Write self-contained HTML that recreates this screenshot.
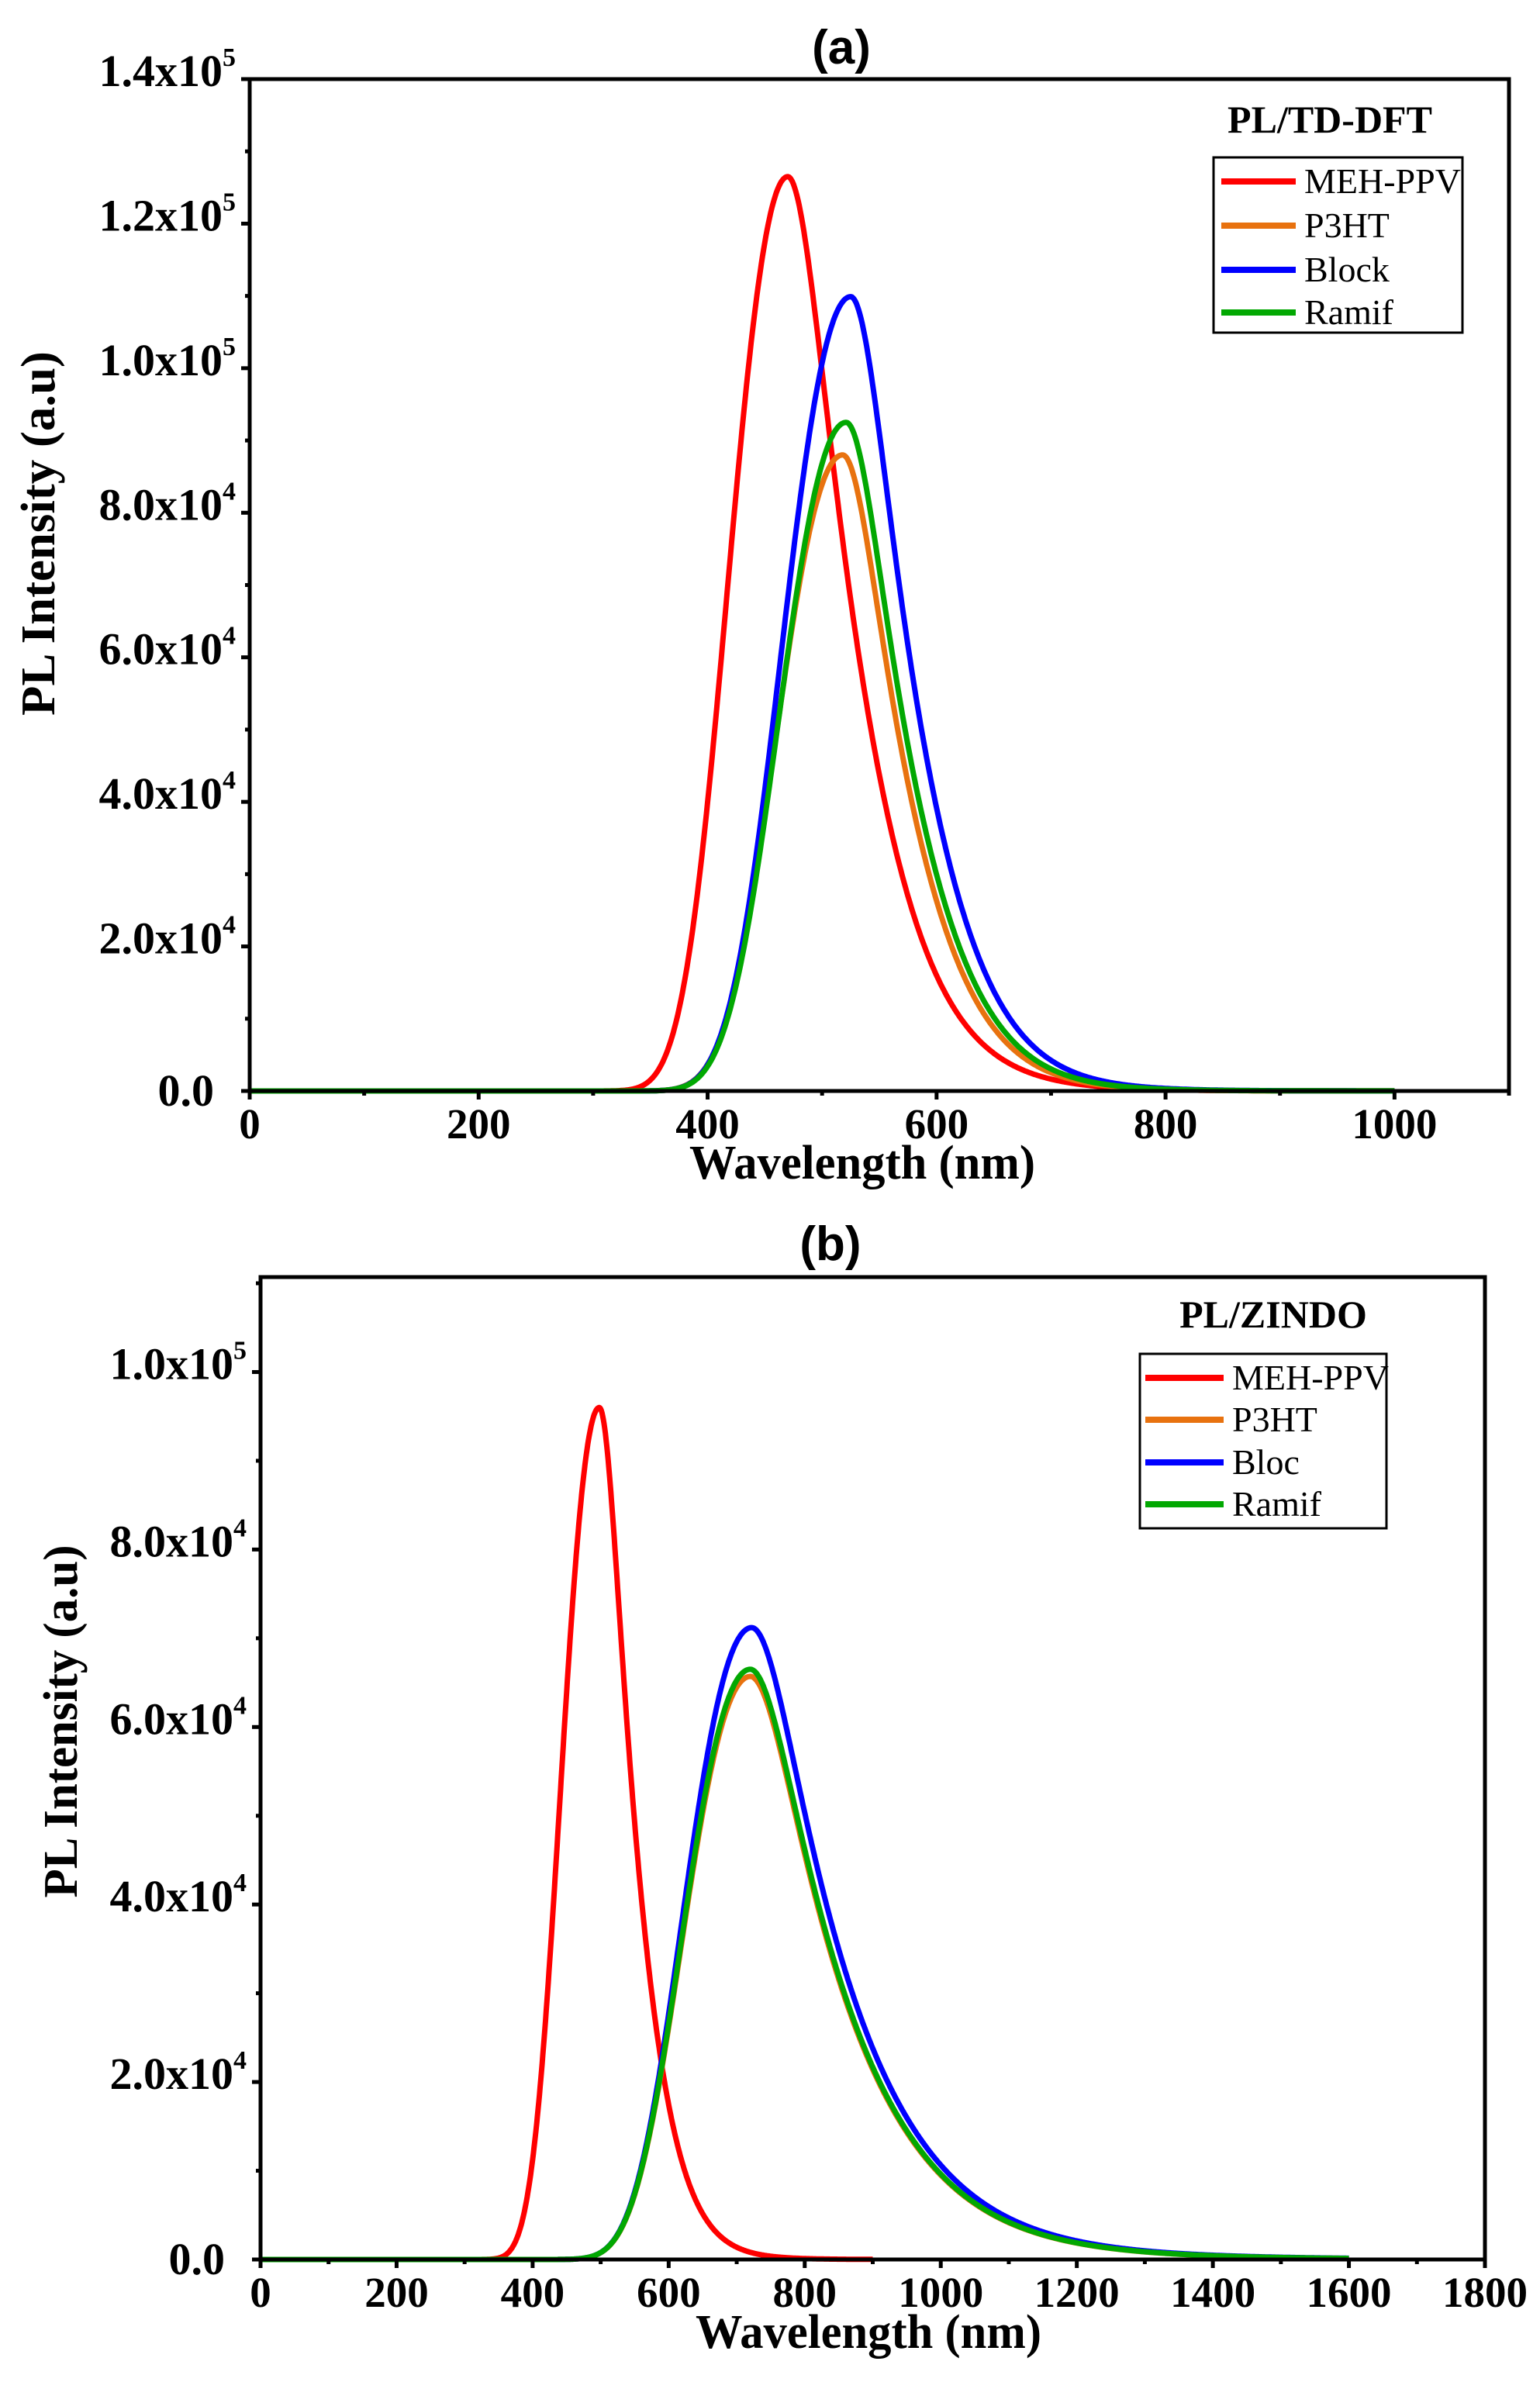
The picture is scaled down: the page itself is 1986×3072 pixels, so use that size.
<!DOCTYPE html>
<html>
<head>
<meta charset="utf-8">
<style>
html,body{margin:0;padding:0;background:#fff;}
svg{display:block;}
.t{font-family:"Liberation Serif",serif;font-weight:bold;fill:#000;}
.s{font-family:"Liberation Sans",sans-serif;font-weight:bold;fill:#000;}
.l{font-family:"Liberation Serif",serif;fill:#000;}
</style>
</head>
<body>
<svg id="sv" width="1986" height="3072" viewBox="0 0 1986 3072" xmlns="http://www.w3.org/2000/svg">
<rect width="1986" height="3072" fill="#fff"/>
<text class="s" x="1085" y="82" font-size="62" text-anchor="middle">(a)</text>
<text class="s" x="1071" y="1625" font-size="62" text-anchor="middle">(b)</text>
<text class="t" x="1112" y="1520" font-size="62" text-anchor="middle" textLength="446" lengthAdjust="spacingAndGlyphs">Wavelength (nm)</text>
<text class="t" x="1120" y="3028" font-size="62" text-anchor="middle" textLength="446" lengthAdjust="spacingAndGlyphs">Wavelength (nm)</text>
<text class="t" transform="translate(70,688) rotate(-90)" font-size="62" text-anchor="middle" textLength="470" lengthAdjust="spacingAndGlyphs">PL Intensity (a.u)</text>
<text class="t" transform="translate(99,2220) rotate(-90)" font-size="62" text-anchor="middle" textLength="455" lengthAdjust="spacingAndGlyphs">PL Intensity (a.u)</text>
<g id="g"></g>
</svg>
<script>
(function(){
var NS="http://www.w3.org/2000/svg";
var g=document.getElementById("g");
function el(tag,attrs,txt){var e=document.createElementNS(NS,tag);for(var k in attrs)e.setAttribute(k,attrs[k]);if(txt!==undefined)e.textContent=txt;g.appendChild(e);return e;}
function prof(lam,p){
  var E=1239.84/lam,E0=1239.84/p.pk,d=E-E0;
  if(d>0){var r=d/p.hL;return p.A*Math.exp(-0.693147*r*r);}
  var r2=d/p.hR;var G=Math.exp(-0.693147*r2*r2),L=1/(1+r2*r2);L=L*L*L;
  return p.A*((1-p.m)*G+p.m*L);
}
function panel(P){
  var X=function(v){return P.x0+(v-P.xmin)*(P.x1-P.x0)/(P.xmax-P.xmin);};
  var Y=function(v){return P.y0-(v)*(P.y0-P.y1)/P.ymax;};
  P.series.forEach(function(s){
    var d="";
    for(var lam=1;lam<=s.end;lam+=1){
      var v=prof(lam,s);var x=X(lam),y=Y(v);
      d+=(d?"L":"M")+x.toFixed(1)+" "+y.toFixed(1);
    }
    d="M"+X(0).toFixed(1)+" "+Y(0).toFixed(1)+d.replace(/^M/,"L");
    el("path",{d:d,fill:"none",stroke:s.c,"stroke-width":7,"stroke-linejoin":"round"});
  });
  el("rect",{x:P.x0,y:P.y1,width:P.x1-P.x0,height:P.y0-P.y1,fill:"none",stroke:"#000","stroke-width":5});
  for(var v=0;v<=P.xmax+0.1;v+=P.xminor){
    var maj=(Math.round(v)%P.xmaj===0);
    var x=X(v);
    el("line",{x1:x,y1:P.y0,x2:x,y2:P.y0+(maj?11:6),stroke:"#000","stroke-width":5});
    if(maj&&v<=P.xlabmax) el("text",{"class":"t",x:x,y:P.y0+61,"font-size":55,"text-anchor":"middle"},String(Math.round(v)));
  }
  for(var k=0;k*1e4<=P.ymax+1;k++){
    var y=Y(k*1e4);var maj=(k%2===0);
    el("line",{x1:P.x0,y1:y,x2:P.x0-(maj?11:6),y2:y,stroke:"#000","stroke-width":5});
    if(maj){
      var val=k*1e4;
      if(val===0){el("text",{"class":"t",x:P.x0-46,y:y+19,"font-size":58,"text-anchor":"end"},"0.0");}
      else{
        var e=val>=1e5?5:4;var m=(val/Math.pow(10,e)).toFixed(1);
        el("text",{"class":"t",x:P.x0-35,y:y+9,"font-size":58,"text-anchor":"end"},m+"x10");
        el("text",{"class":"t",x:P.x0-35,y:y-17,"font-size":34,"text-anchor":"start"},String(e));
      }
    }
  }
  var L=P.leg;
  el("text",{"class":"t",x:L.tx,y:L.ty,"font-size":50,"text-anchor":"middle"},L.title);
  el("rect",{x:L.x,y:L.y,width:L.w,height:L.h,fill:"#fff",stroke:"#000","stroke-width":3});
  P.series.forEach(function(s,i){
    var yy=L.ly[i];
    el("line",{x1:L.lx0,y1:yy,x2:L.lx1,y2:yy,stroke:s.c,"stroke-width":8});
    el("text",{"class":"l",x:L.lx1+11,y:yy+15,"font-size":46},L.names[i]);
  });
}
var R="#ff0000",O="#e8720f",B="#0000ff",Gn="#02a802";
panel({x0:322,x1:1946,xmin:0,xmax:1100,y0:1407,y1:102,ymax:1.4e5,xminor:100,xmaj:200,xlabmax:1000,
 series:[
  {c:R,pk:470,A:1.265e5,hL:0.358,hR:0.358,m:0.3,end:1000},
  {c:O,pk:518,A:8.8e4,hL:0.33,hR:0.29,m:0.35,end:1000},
  {c:B,pk:525,A:1.099e5,hL:0.333,hR:0.289,m:0.35,end:1000},
  {c:Gn,pk:521,A:9.25e4,hL:0.33,hR:0.29,m:0.35,end:1000}],
 leg:{title:"PL/TD-DFT",tx:1715,ty:171,x:1565,y:203,w:321,h:226,lx0:1575,lx1:1671,ly:[234,291,348,403],names:["MEH-PPV","P3HT","Block","Ramif"]}
});
panel({x0:336,x1:1915,xmin:0,xmax:1800,y0:2914,y1:1647,ymax:1.107e5,xminor:100,xmaj:200,xlabmax:1800,
 series:[
  {c:R,pk:498,A:9.6e4,hL:0.347,hR:0.303,m:0.35,end:900},
  {c:O,pk:720,A:6.57e4,hL:0.299,hR:0.32,m:0.35,end:1600},
  {c:B,pk:722,A:7.12e4,hL:0.299,hR:0.32,m:0.35,end:1600},
  {c:Gn,pk:720,A:6.65e4,hL:0.299,hR:0.32,m:0.35,end:1600}],
 leg:{title:"PL/ZINDO",tx:1642,ty:1712,x:1470,y:1746,w:318,h:225,lx0:1477,lx1:1578,ly:[1777,1831,1886,1940],names:["MEH-PPV","P3HT","Bloc","Ramif"]}
});
})();
</script>
</body>
</html>
